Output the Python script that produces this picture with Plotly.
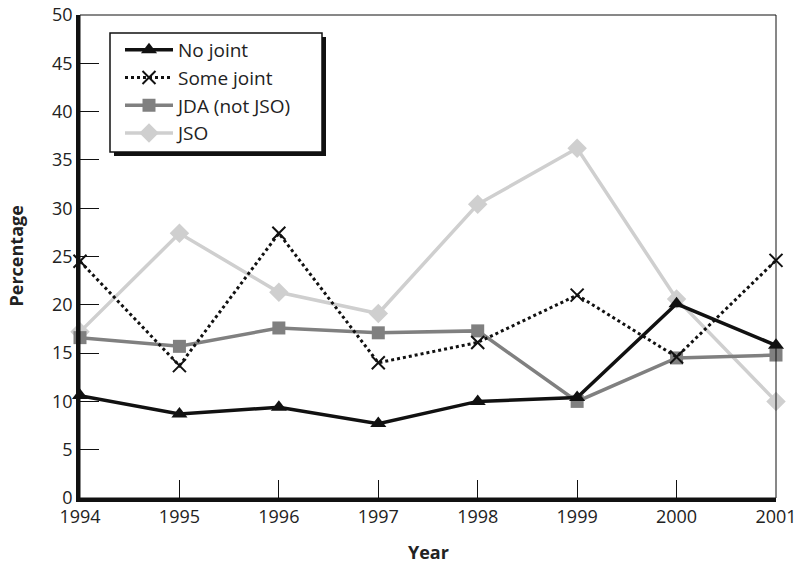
import plotly.graph_objects as go

# Données
years = [1994, 1995, 1996, 1997, 1998, 1999, 2000, 2001]
no_joint = [10.6, 8.7, 9.4, 7.7, 10.0, 10.4, 20.1, 15.8]
some_joint = [24.5, 13.7, 27.4, 14.0, 16.1, 21.0, 14.6, 24.6]
jda_not_jso = [16.6, 15.7, 17.6, 17.1, 17.3, 10.0, 14.5, 14.8]
jso = [17.2, 27.4, 21.3, 19.1, 30.4, 36.2, 20.6, 10.0]

font_name = "Open Sans"

W, H = 795, 563
ML, MR, MT, MB = 80, 19, 15, 65
PW = W - ML - MR   # largeur zone de tracé
PH = H - MT - MB   # hauteur zone de tracé


def px_x(v):
    # px (depuis le bord gauche de la zone de tracé) -> coord. paper
    return v / PW


def px_y(v):
    # px (depuis le haut de la zone de tracé) -> coord. paper
    return 1 - v / PH


fig = go.Figure()

fig.add_trace(go.Scatter(
    x=years, y=jso, name="JSO", mode="lines+markers",
    line=dict(color="#cfcfcf", width=3.5),
    marker=dict(symbol="diamond", size=15, color="#cfcfcf"),
    cliponaxis=False,
))
fig.add_trace(go.Scatter(
    x=years, y=jda_not_jso, name="JDA (not JSO)", mode="lines+markers",
    line=dict(color="#808080", width=3.5),
    marker=dict(symbol="square", size=13, color="#808080"),
    cliponaxis=False,
))
fig.add_trace(go.Scatter(
    x=years, y=some_joint, name="Some joint", mode="lines+markers",
    line=dict(color="#111111", width=3, dash="dot"),
    marker=dict(symbol="x-thin", size=13, line=dict(color="#111111", width=2)),
    cliponaxis=False,
))
fig.add_trace(go.Scatter(
    x=years, y=no_joint, name="No joint", mode="lines+markers",
    line=dict(color="#111111", width=3.5),
    marker=dict(symbol="triangle-up", size=14, color="#111111"),
    cliponaxis=False,
))

# cadre fin haut/droite
fig.add_shape(type="rect", xref="paper", yref="paper", x0=0, x1=1, y0=0, y1=1,
              line=dict(color="#111111", width=1), layer="above")

# cadre de légende + ombre (la légende plotly est transparente par-dessus)
box_l, box_t, box_w, box_h = 30, 18, 212, 119
fig.add_shape(type="rect", xref="paper", yref="paper",
              x0=px_x(box_l + 4), x1=px_x(box_l + box_w + 4),
              y0=px_y(box_t + box_h + 4), y1=px_y(box_t + 4),
              line=dict(width=0), fillcolor="#111111", layer="above")
fig.add_shape(type="rect", xref="paper", yref="paper",
              x0=px_x(box_l), x1=px_x(box_l + box_w),
              y0=px_y(box_t + box_h), y1=px_y(box_t),
              line=dict(color="#111111", width=1.5), fillcolor="white", layer="above")

fig.add_annotation(text="<b>Percentage</b>", xref="paper", yref="paper",
                   x=0, y=0.5, xshift=-65, xanchor="center", yanchor="middle",
                   textangle=-90, showarrow=False,
                   font=dict(size=18, color="#222222"))
fig.add_annotation(text="<b>Year</b>", xref="paper", yref="paper",
                   x=0.5, y=0, yshift=-54, xanchor="center", yanchor="middle",
                   showarrow=False, font=dict(size=18, color="#222222"))

fig.update_layout(
    width=W, height=H,
    margin=dict(l=ML, r=MR, t=MT, b=MB),
    paper_bgcolor="white", plot_bgcolor="white",
    font=dict(family=font_name, size=18, color="#222222"),
    showlegend=True,
    legend=dict(
        x=px_x(40), y=px_y(16), xanchor="left", yanchor="top",
        bgcolor="rgba(0,0,0,0)", borderwidth=0,
        traceorder="reversed",
        font=dict(family=font_name, size=19, color="#222222"),
        itemwidth=48, tracegroupgap=0,
    ),
    xaxis=dict(
        range=[1994, 2001], tickmode="array", tickvals=years,
        showgrid=False, zeroline=False, automargin=False,
        showline=True, linecolor="#111111", linewidth=3.5,
        ticks="inside", ticklen=18, tickwidth=1, tickcolor="#111111",
        ticklabeloverflow="allow",
    ),
    yaxis=dict(
        range=[0, 50], dtick=5,
        showgrid=False, zeroline=False, automargin=False,
        showline=True, linecolor="#111111", linewidth=3.5,
        ticks="inside", ticklen=19, tickwidth=1, tickcolor="#111111",
        ticklabeloverflow="allow",
    ),
)

# pas de marge de page autour du graphique, pas de barre d'outils
fig.write_html("out.html", config={"displayModeBar": False},
               post_script="document.body.style.margin = '0';")
